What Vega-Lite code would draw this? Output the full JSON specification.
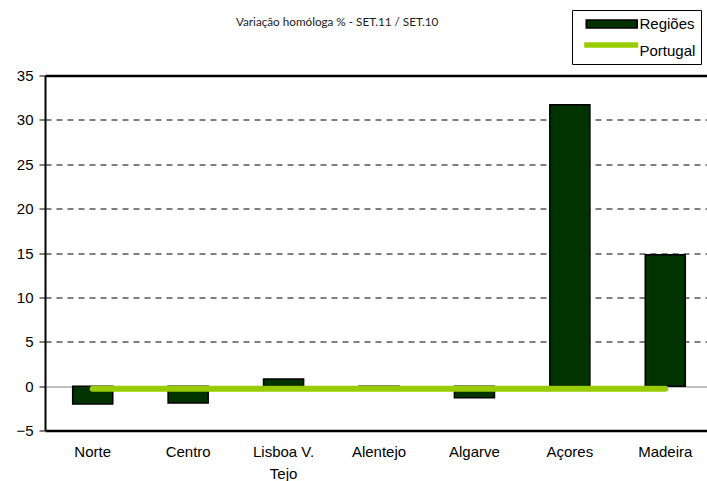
{
  "$schema": "https://vega.github.io/schema/vega-lite/v6.json",
  "width": 662,
  "height": 355,
  "autosize": {"type": "none"},
  "padding": {"left": 45, "top": 75.5, "right": 0, "bottom": 50.5},
  "background": "white",
  "title": {
    "text": "Variação homóloga % - SET.11 / SET.10",
    "anchor": "start",
    "frame": "group",
    "dx": 191,
    "offset": 0,
    "dy": 28,
    "baseline": "alphabetic",
    "font": "Lato, sans-serif",
    "fontSize": 11.7,
    "fontWeight": "normal",
    "color": "#1a1a1a"
  },
  "config": {
    "view": {"stroke": null},
    "font": "Liberation Sans, Arial, sans-serif"
  },
  "data": {
    "values": [
      {"regiao": "Norte", "regioes": -2.0, "portugal": -0.3},
      {"regiao": "Centro", "regioes": -1.9, "portugal": -0.3},
      {"regiao": "Lisboa V. Tejo", "regioes": 0.8, "portugal": -0.3},
      {"regiao": "Alentejo", "regioes": -0.1, "portugal": -0.3},
      {"regiao": "Algarve", "regioes": -1.3, "portugal": -0.3},
      {"regiao": "Açores", "regioes": 31.7, "portugal": -0.3},
      {"regiao": "Madeira", "regioes": 14.8, "portugal": -0.3}
    ]
  },
  "encoding": {
    "x": {
      "field": "regiao",
      "type": "nominal",
      "sort": null,
      "title": null,
      "scale": {"range": [0, 668], "paddingInner": 0.58, "paddingOuter": 0.29},
      "axis": {
        "domain": false,
        "ticks": false,
        "labelAngle": 0,
        "labelPadding": 14,
        "labelFontSize": 15,
        "labelColor": "black",
        "labelLineHeight": 22,
        "labelBaseline": "top",
        "labelExpr": "datum.label === 'Lisboa V. Tejo' ? ['Lisboa V.', 'Tejo'] : datum.label"
      }
    }
  },
  "layer": [
    {
      "mark": {"type": "bar", "fill": "#003300", "stroke": "black", "strokeWidth": 1.5},
      "encoding": {
        "y": {
          "field": "regioes",
          "type": "quantitative",
          "title": null,
          "scale": {"domain": [-5, 35], "nice": false, "zero": false},
          "axis": {
            "values": [-5, 0, 5, 10, 15, 20, 25, 30, 35],
            "domainColor": "black",
            "domainWidth": 2,
            "tickColor": "black",
            "tickSize": 6,
            "tickWidth": 1,
            "labelFontSize": 15,
            "labelColor": "black",
            "labelPadding": 6,
            "grid": true,
            "gridOpacity": 1,
            "gridColor": {"condition": {"test": "datum.value === 0", "value": "#808080"}, "value": "#000000"},
            "gridDash": {"condition": {"test": "datum.value === 0 || datum.value === 35 || datum.value === -5", "value": []}, "value": [6, 5]},
            "gridWidth": {"condition": {"test": "datum.value === 35 || datum.value === -5", "value": 2.5}, "value": 1}
          }
        }
      }
    },
    {
      "mark": {"type": "line", "color": "#99cc00", "strokeWidth": 6, "strokeCap": "round"},
      "encoding": {
        "y": {"field": "portugal", "type": "quantitative"}
      }
    },
    {
      "transform": [{"filter": "false"}],
      "mark": {"type": "point", "filled": true, "opacity": 1, "fillOpacity": 1, "strokeOpacity": 1},
      "encoding": {
        "y": {"field": "portugal", "type": "quantitative"},
        "shape": {
          "field": "serie",
          "type": "nominal",
          "scale": {"domain": ["Regiões", "Portugal"], "range": ["M-0.22,-0.5H6.16V0.5H-0.22Z", "M-0.47,-0.75H6.28"]},
          "legend": {"title": null, "orient": "none", "legendX": 527, "legendY": -65.5}
        },
        "fill": {
          "field": "serie",
          "type": "nominal",
          "scale": {"domain": ["Regiões", "Portugal"], "range": ["#003300", "transparent"]},
          "legend": {
            "title": null,
            "orient": "none",
            "legendX": 527,
            "legendY": -65.5,
            "padding": 5,
            "strokeColor": "black",
            "fillColor": "white",
            "symbolSize": 256,
            "symbolOpacity": 1,
            "rowPadding": 2,
            "labelOffset": 40.5,
            "labelFontSize": 15,
            "labelColor": "black"
          }
        },
        "stroke": {
          "field": "serie",
          "type": "nominal",
          "scale": {"domain": ["Regiões", "Portugal"], "range": ["#000000", "#99cc00"]},
          "legend": {"title": null, "orient": "none", "legendX": 527, "legendY": -65.5}
        },
        "strokeWidth": {
          "field": "serie",
          "type": "ordinal",
          "scale": {"domain": ["Regiões", "Portugal"], "range": [1.5, 5.5]},
          "legend": {"title": null, "orient": "none", "legendX": 527, "legendY": -65.5}
        }
      }
    }
  ]
}
